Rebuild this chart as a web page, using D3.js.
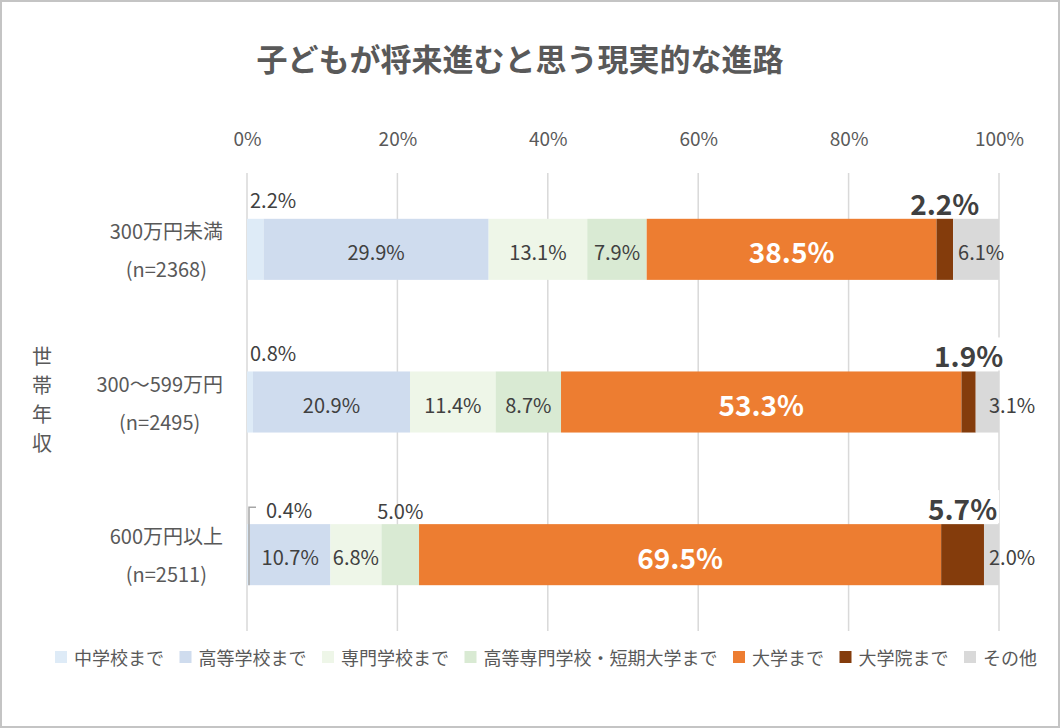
<!DOCTYPE html>
<html><head><meta charset="utf-8">
<script src="https://cdn.jsdelivr.net/npm/d3@7"></script>
<style>
html,body{margin:0;padding:0;background:#fff;}
svg{display:block;font-family:"Noto Sans CJK JP","Noto Sans",sans-serif;}
</style></head>
<body>
<svg id="chart" width="1060" height="728"></svg>
<script>
const title = "子どもが将来進むと思う現実的な進路";
const axisTitle = "世帯年収";
const categories = ["300万円未満", "300〜599万円", "600万円以上"];
const sampleSizes = ["(n=2368)", "(n=2495)", "(n=2511)"];
const seriesNames = ["中学校まで", "高等学校まで", "専門学校まで", "高等専門学校・短期大学まで", "大学まで", "大学院まで", "その他"];
const juniorHigh = [2.2, 0.8, 0.4];
const highSchool = [29.9, 20.9, 10.7];
const vocational = [13.1, 11.4, 6.8];
const juniorCollege = [7.9, 8.7, 5.0];
const university = [38.5, 53.3, 69.5];
const graduate = [2.2, 1.9, 5.7];
const other = [6.1, 3.1, 2.0];
const tickValues = [0, 0.2, 0.4, 0.6, 0.8, 1.0];
const palette = ["#deebf7", "#cfdcee", "#eef6e8", "#d9ead3", "#ed7d31", "#843c0c", "#d9d9d9"];

const seriesValues = [juniorHigh, highSchool, vocational, juniorCollege, university, graduate, other];
const rows = categories.map((c, i) => {
  const r = {cat: c};
  seriesNames.forEach((s, j) => r[s] = seriesValues[j][i]);
  return r;
});

const svg = d3.select("#chart");
const W = 1060, H = 728;
const textGrey = "#595959", labelDark = "#404040";

svg.append("rect").attr("x", 1).attr("y", 1).attr("width", W - 2).attr("height", H - 2)
  .attr("fill", "#fff").attr("stroke", "#c4c4c4").attr("stroke-width", 2);

svg.append("text").attr("x", 520).attr("y", 57).attr("text-anchor", "middle")
  .attr("dominant-baseline", "central").attr("font-size", 31).attr("font-weight", "bold")
  .attr("fill", textGrey).text(title);

const plotLeft = 247, plotRight = 999, plotTop = 173, plotBottom = 631;
const x = d3.scaleLinear().domain([0, 1]).range([plotLeft, plotRight]);
const y = d3.scaleBand().domain(categories).range([plotTop, plotBottom]).paddingInner(0.6).paddingOuter(0.3);

// gridlines
svg.append("g").selectAll("line").data(tickValues).join("line")
  .attr("x1", d => x(d)).attr("x2", d => x(d)).attr("y1", plotTop).attr("y2", plotBottom)
  .attr("stroke", "#d9d9d9").attr("stroke-width", 1.5);

// top axis labels
const axis = d3.axisTop(x).tickValues(tickValues).tickFormat(d3.format(".0%")).tickSize(0).tickPadding(0);
const gAxis = svg.append("g").attr("transform", `translate(0,${139})`).call(axis);
gAxis.select(".domain").remove();
gAxis.selectAll("text").attr("font-size", 19).attr("fill", textGrey)
  .attr("font-family", '"Noto Sans CJK JP","Noto Sans",sans-serif').attr("dy", "0.35em");

// stacks
const stack = d3.stack().keys(seriesNames).offset(d3.stackOffsetExpand);
const series = stack(rows);

const gBars = svg.append("g");
series.forEach((s, j) => {
  gBars.append("g").attr("fill", palette[j]).selectAll("rect").data(s).join("rect")
    .attr("x", d => x(d[0])).attr("width", d => x(d[1]) - x(d[0]))
    .attr("y", d => y(d.data.cat)).attr("height", y.bandwidth());
});

// category labels
const gCat = svg.append("g");
categories.forEach((c, i) => {
  const cy = y(c) + y.bandwidth() / 2;
  const g = gCat.append("g");
  const t1 = g.append("text").attr("y", cy - 19).attr("dominant-baseline", "central")
    .attr("font-size", 20).attr("fill", textGrey).attr("text-anchor", "middle").text(c);
  const t2 = g.append("text").attr("y", cy + 19).attr("dominant-baseline", "central")
    .attr("font-size", 20).attr("fill", textGrey).attr("text-anchor", "middle").text(sampleSizes[i]);
  const w = Math.max(t1.node().getComputedTextLength(), t2.node().getComputedTextLength());
  const cx = 223 - w / 2;
  t1.attr("x", cx); t2.attr("x", cx);
});

// axis title vertical
const gAT = svg.append("text").attr("font-size", 20).attr("fill", textGrey).attr("text-anchor", "middle");
Array.from(axisTitle).forEach((ch, i) => {
  gAT.append("tspan").attr("x", 42).attr("y", 355 + i * 29).attr("dominant-baseline", "central").text(ch);
});

// data labels
const fmt = v => v.toFixed(1) + "%";
const gLab = svg.append("g");
series.forEach((s, j) => {
  s.forEach((d, i) => {
    const v = seriesValues[j][i];
    const x0 = x(d[0]), x1 = x(d[1]);
    const top = y(d.data.cat), cy = top + y.bandwidth() / 2;
    const w = x1 - x0;
    if (j === 0) {
      if (w < 5) {
        gLab.append("path").attr("d", `M${x0 + 2},${top + y.bandwidth()}V${top - 17}H${x0 + 9}`)
          .attr("fill", "none").attr("stroke", "#a6a6a6").attr("stroke-width", 1.5);
        gLab.append("text").attr("x", x0 + 19).attr("y", top - 15).attr("dominant-baseline", "central")
          .attr("font-size", 20).attr("fill", labelDark).text(fmt(v));
      } else {
        gLab.append("text").attr("x", x0 + 3).attr("y", top - 19).attr("dominant-baseline", "central")
          .attr("font-size", 20).attr("fill", labelDark).text(fmt(v));
      }
    } else if (j >= 1 && j <= 3) {
      const t = gLab.append("text").attr("x", (x0 + x1) / 2).attr("text-anchor", "middle")
        .attr("dominant-baseline", "central").attr("font-size", 20).attr("fill", labelDark).text(fmt(v));
      const tw = t.node().getComputedTextLength();
      if (tw + 4 > w) t.attr("y", top - 14); else t.attr("y", cy + 2);
    } else if (j === 4) {
      gLab.append("text").attr("x", (x0 + x1) / 2).attr("y", cy + 2).attr("text-anchor", "middle")
        .attr("dominant-baseline", "central").attr("font-size", 28).attr("font-weight", "bold")
        .attr("fill", "#fff").text(fmt(v));
    } else if (j === 5) {
      const g = gLab.append("g");
      const bg = g.append("rect").attr("fill", "#fff");
      const t = g.append("text").attr("x", (x0 + x1) / 2).attr("y", top - 16).attr("text-anchor", "middle")
        .attr("dominant-baseline", "central").attr("font-size", 28).attr("font-weight", "bold")
        .attr("fill", labelDark).text(fmt(v));
      const bb = t.node().getBBox();
      bg.attr("x", bb.x - 2).attr("y", bb.y + 2).attr("width", bb.width + 4).attr("height", top - bb.y - 3);
    } else {
      const lx = w > 30 ? x0 + 5 : x(1) - 10;
      gLab.append("text").attr("x", lx).attr("y", cy + 2).attr("dominant-baseline", "central")
        .attr("font-size", 20).attr("fill", labelDark).text(fmt(v));
    }
  });
});

// legend
const gLeg = svg.append("g");
let lx = 55;
const ly = 657;
seriesNames.forEach((s, j) => {
  gLeg.append("rect").attr("x", lx).attr("y", ly - 6).attr("width", 12).attr("height", 12).attr("fill", palette[j]);
  const t = gLeg.append("text").attr("x", lx + 19).attr("y", ly).attr("dominant-baseline", "central")
    .attr("font-size", 18).attr("fill", textGrey).text(s);
  lx += 19 + t.node().getComputedTextLength() + 15.5;
});
</script>
</body></html>
